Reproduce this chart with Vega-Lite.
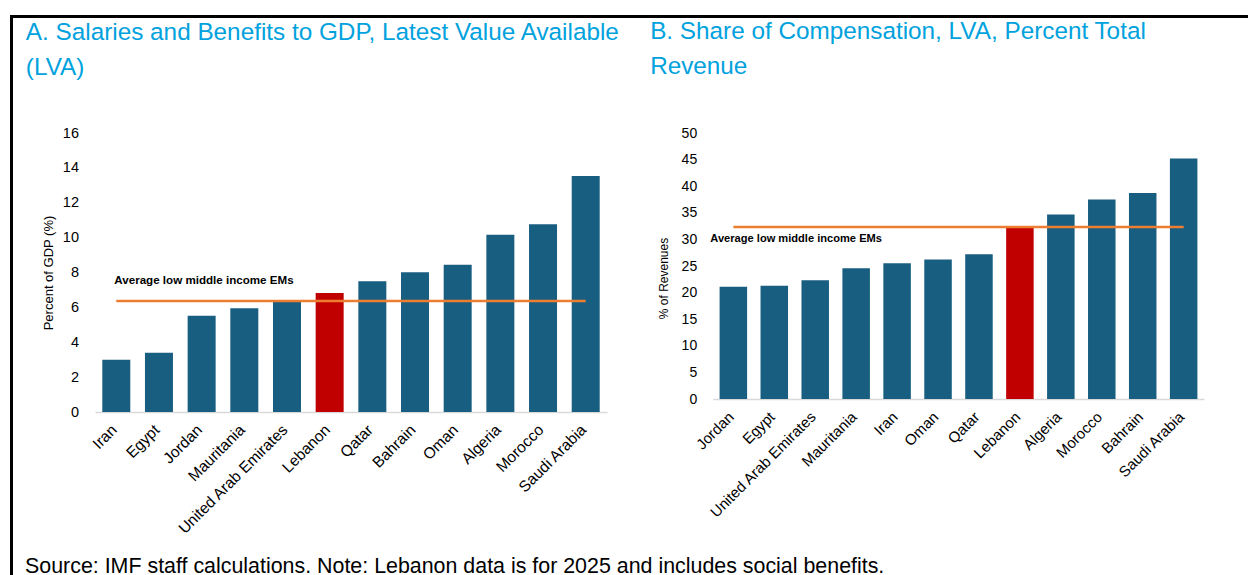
{
  "$schema": "https://vega.github.io/schema/vega-lite/v6.json",
  "padding": {"left": 10, "top": 15, "right": 0, "bottom": 0},
  "background": "white",
  "config": {
    "font": "Liberation Sans",
    "view": {"stroke": null},
    "axis": {"labelColor": "#000", "titleColor": "#000", "grid": false, "ticks": false, "labelFont": "Liberation Sans", "titleFont": "Liberation Sans", "titleFontWeight": "normal", "labelOverlap": false},
    "title": {"font": "Liberation Sans", "fontWeight": "normal"}
  },
  "datasets": {
    "salaries": [
      {"country": "Iran", "value": 3.0},
      {"country": "Egypt", "value": 3.4},
      {"country": "Jordan", "value": 5.52},
      {"country": "Mauritania", "value": 5.95},
      {"country": "United Arab Emirates", "value": 6.38},
      {"country": "Lebanon", "value": 6.83},
      {"country": "Qatar", "value": 7.5},
      {"country": "Bahrain", "value": 8.02},
      {"country": "Oman", "value": 8.44},
      {"country": "Algeria", "value": 10.16},
      {"country": "Morocco", "value": 10.77},
      {"country": "Saudi Arabia", "value": 13.53}
    ],
    "avgA": [{"from": "Iran", "to": "Saudi Arabia", "avg": 6.37, "label": "Average low middle income EMs"}],
    "compensation": [
      {"country": "Jordan", "value": 21.1},
      {"country": "Egypt", "value": 21.3},
      {"country": "United Arab Emirates", "value": 22.3},
      {"country": "Mauritania", "value": 24.6},
      {"country": "Iran", "value": 25.5},
      {"country": "Oman", "value": 26.2},
      {"country": "Qatar", "value": 27.2},
      {"country": "Lebanon", "value": 32.3},
      {"country": "Algeria", "value": 34.7},
      {"country": "Morocco", "value": 37.5},
      {"country": "Bahrain", "value": 38.7},
      {"country": "Saudi Arabia", "value": 45.2}
    ],
    "avgB": [{"from": "Jordan", "to": "Saudi Arabia", "avg": 32.35, "label": "Average low middle income EMs"}]
  },
  "spacing": 0,
  "hconcat": [
    {
      "width": 1,
      "height": 600,
      "view": {"stroke": "#000", "strokeWidth": 2},
      "data": {"values": []},
      "mark": {"type": "rule", "opacity": 0},
      "encoding": {}
    },
    {
      "spacing": 1,
      "vconcat": [
        {
          "width": 1240,
          "height": 1,
          "view": {"stroke": "#000", "strokeWidth": 2},
          "data": {"values": []},
          "mark": {"type": "rule", "opacity": 0},
          "encoding": {}
        },
        {
          "spacing": 10,
          "title": {"text": "Source: IMF staff calculations. Note: Lebanon data is for 2025 and includes social benefits.", "orient": "bottom", "anchor": "start", "frame": "bounds", "dx": 11, "fontSize": 21.4, "color": "#000", "offset": 19},
          "hconcat": [
            {
              "width": 1,
              "height": 1,
              "data": {"values": []},
              "mark": {"type": "rule", "opacity": 0},
              "encoding": {}
            },
            {
              "spacing": 29,
              "hconcat": [
                {
                  "title": {"text": ["A. Salaries and Benefits to GDP, Latest Value Available", "(LVA)"], "anchor": "start", "frame": "bounds", "dx": -16.5, "fontSize": 24.3, "color": "#00A2DE", "lineHeight": 35, "offset": 45},
                  "width": 512,
                  "height": 279,
                  "encoding": {
                    "x": {"field": "country", "type": "nominal", "sort": null,
                      "scale": {"domain": ["Iran", "Egypt", "Jordan", "Mauritania", "United Arab Emirates", "Lebanon", "Qatar", "Bahrain", "Oman", "Algeria", "Morocco", "Saudi Arabia"], "paddingInner": 0.344, "paddingOuter": 0.171},
                      "axis": {"title": null, "labelAngle": -45, "labelFontSize": 15.5, "domainColor": "#D9D9D9", "domainWidth": 1.5, "labelPadding": 10, "labelOffset": -7}},
                    "y": {"field": "value", "type": "quantitative", "scale": {"domain": [0, 16], "nice": false},
                      "axis": {"title": "Percent of GDP (%)", "values": [0, 2, 4, 6, 8, 10, 12, 14, 16], "labelOverlap": false, "labelSeparation": 0, "domain": false, "labelFontSize": 14.5, "labelPadding": 16.5, "titleFontSize": 13, "titlePadding": 7}}
                  },
                  "layer": [
                    {
                      "data": {"name": "salaries"},
                      "mark": {"type": "bar"},
                      "encoding": {
                        "color": {"condition": {"test": "datum.country === 'Lebanon'", "value": "#C00000"}, "value": "#185E80"}
                      }
                    },
                    {
                      "data": {"name": "avgA"},
                      "mark": {"type": "rule", "color": "#ED7D31", "strokeWidth": 2.5},
                      "encoding": {"x": {"field": "from", "type": "nominal", "sort": null}, "x2": {"field": "to"}, "y": {"field": "avg", "type": "quantitative"}}
                    },
                    {
                      "data": {"name": "avgA"},
                      "mark": {"type": "text", "align": "left", "baseline": "middle", "dx": -2, "dy": -20, "fontWeight": "bold", "fontSize": 11.6, "font": "Liberation Sans", "color": "#000"},
                      "encoding": {"x": {"field": "from", "type": "nominal", "sort": null}, "y": {"field": "avg", "type": "quantitative"}, "text": {"field": "label"}}
                    }
                  ]
                },
                {
                  "title": {"text": ["B. Share of Compensation, LVA, Percent Total", "Revenue"], "anchor": "start", "frame": "bounds", "dx": -7, "fontSize": 24.3, "color": "#00A2DE", "lineHeight": 35, "offset": 47},
                  "width": 491,
                  "height": 266,
                  "encoding": {
                    "x": {"field": "country", "type": "nominal", "sort": null,
                      "scale": {"domain": ["Jordan", "Egypt", "United Arab Emirates", "Mauritania", "Iran", "Oman", "Qatar", "Lebanon", "Algeria", "Morocco", "Bahrain", "Saudi Arabia"], "paddingInner": 0.328, "paddingOuter": 0.161},
                      "axis": {"title": null, "labelAngle": -45, "labelFontSize": 15, "domainColor": "#D9D9D9", "domainWidth": 1.5, "labelPadding": 10, "labelOffset": -7}},
                    "y": {"field": "value", "type": "quantitative", "scale": {"domain": [0, 50], "nice": false},
                      "axis": {"title": "% of Revenues", "values": [0, 5, 10, 15, 20, 25, 30, 35, 40, 45, 50], "labelOverlap": false, "labelSeparation": 0, "domain": false, "labelFontSize": 14, "labelPadding": 16.3, "titleFontSize": 12, "titlePadding": 11, "titleY": 145}}
                  },
                  "layer": [
                    {
                      "data": {"name": "compensation"},
                      "mark": {"type": "bar"},
                      "encoding": {
                        "color": {"condition": {"test": "datum.country === 'Lebanon'", "value": "#C00000"}, "value": "#185E80"}
                      }
                    },
                    {
                      "data": {"name": "avgB"},
                      "mark": {"type": "rule", "color": "#ED7D31", "strokeWidth": 2.5},
                      "encoding": {"x": {"field": "from", "type": "nominal", "sort": null}, "x2": {"field": "to"}, "y": {"field": "avg", "type": "quantitative"}}
                    },
                    {
                      "data": {"name": "avgB"},
                      "mark": {"type": "text", "align": "left", "baseline": "middle", "dx": -23, "dy": 11.7, "fontWeight": "bold", "fontSize": 11.1, "font": "Liberation Sans", "color": "#000"},
                      "encoding": {"x": {"field": "from", "type": "nominal", "sort": null}, "y": {"field": "avg", "type": "quantitative"}, "text": {"field": "label"}}
                    }
                  ]
                }
              ]
            }
          ]
        }
      ]
    }
  ]
}
